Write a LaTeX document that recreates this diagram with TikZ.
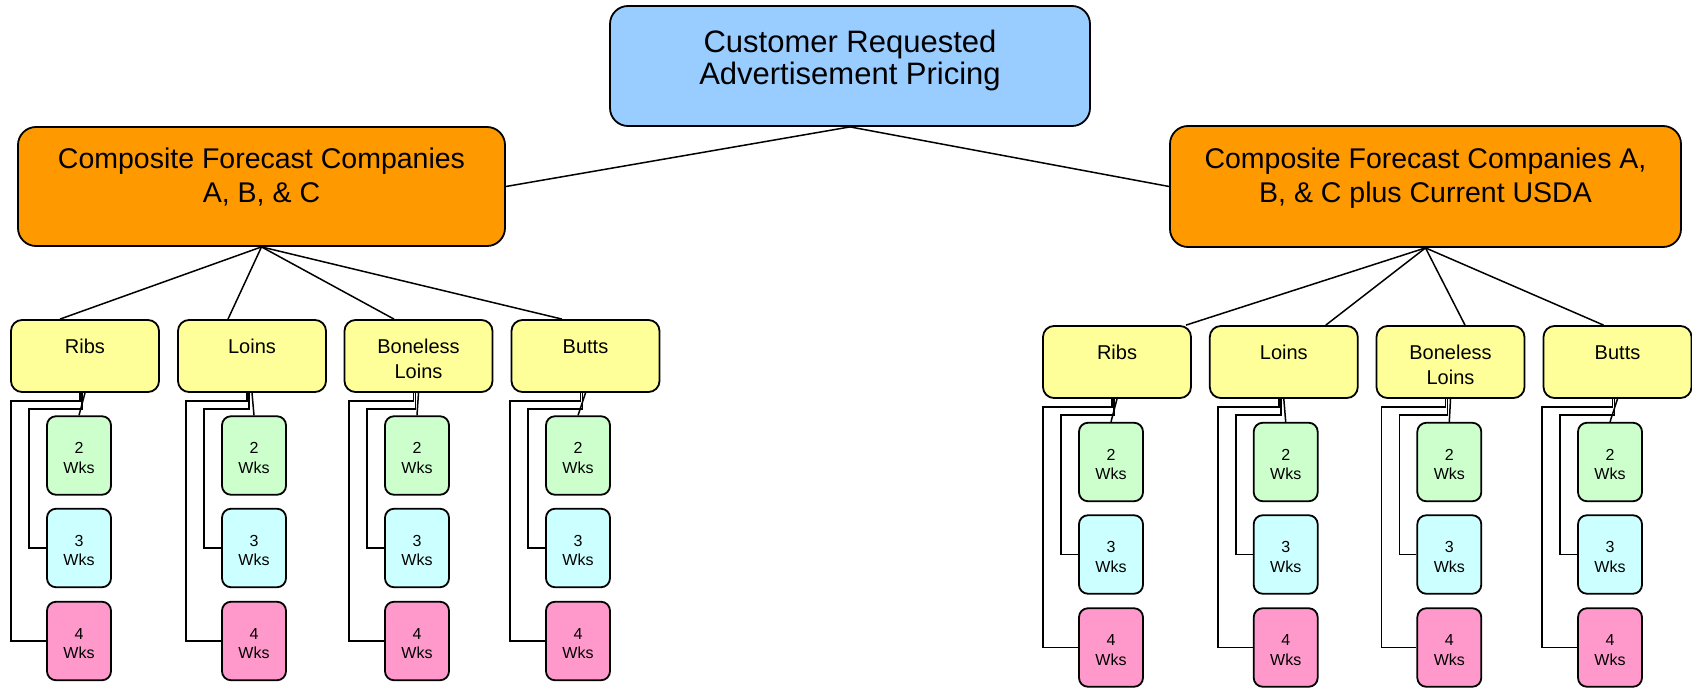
\documentclass[tikz,border=0pt]{standalone}
\usepackage{fontspec}
\setmainfont{Liberation Sans}
\usetikzlibrary{calc}

\definecolor{topblue}{RGB}{153,204,255}
\definecolor{comporange}{RGB}{255,153,0}
\definecolor{cutyellow}{RGB}{255,255,153}
\definecolor{wkgreen}{RGB}{204,255,204}
\definecolor{wkcyan}{RGB}{204,255,255}
\definecolor{wkpink}{RGB}{255,153,204}

% centred lines whose reference baseline is the first line
\newcommand{\stack}[1]{\begin{tabular}[t]{@{}c@{}}#1\end{tabular}}

\begin{document}
\begin{tikzpicture}[x=1pt, y=-1pt,
  anybox/.style={draw=black, line width=1.8pt, inner sep=0pt, text=black},
  topbox/.style={anybox, fill=topblue, rounded corners=18pt,
    minimum width=480pt, minimum height=120pt,
    font=\fontsize{31}{32.3}\selectfont, text height=10pt, text depth=38pt},
  compbox/.style={anybox, fill=comporange, rounded corners=18pt,
    font=\fontsize{28.5}{34}\selectfont, text height=10pt, text depth=45.6pt},
  cutbox/.style={anybox, fill=cutyellow, rounded corners=11pt,
    minimum width=148pt, minimum height=72pt,
    font=\fontsize{20}{25.6}\selectfont, text height=10pt, text depth=16pt},
  wkbox/.style={anybox, rounded corners=9pt,
    minimum width=64pt, minimum height=78.5pt,
    font=\fontsize{16}{19.5}\selectfont, text height=10pt, text depth=14pt},
  link/.style={draw=black, line width=1.5pt}
]
\useasboundingbox (0,0) rectangle (1692,688);

% root and the two forecast groups
\node[topbox] (top) at (850,66) {\stack{Customer Requested\\Advertisement Pricing}};
\node[compbox, minimum width=487pt, minimum height=119pt] (lo) at (261.5,186.5)
  {\stack{Composite Forecast Companies\\A, B, \& C}};
\node[compbox, minimum width=511pt, minimum height=121pt] (ro) at (1425.5,186.5)
  {\stack{Composite Forecast Companies A,\\B, \& C plus Current USDA}};

\draw[link] (top.south) -- (lo.east);
\draw[link] (top.south) -- (ro.west);

% cuts under each group, each with its 2/3/4 week boxes
% side/parent/index/cut x/cut y/week x/week y (2 Wks)/top offset/label
\foreach \s/\pa/\i/\x/\y/\gx/\gy/\dx/\lbl in {
    L/lo/1/85/356/79/455.5/-25/Ribs,
    L/lo/2/252/356/254/455.5/-24/Loins,
    L/lo/3/418.5/356/417/455.5/-24.5/{Boneless\\Loins},
    L/lo/4/585.5/356/578/455.5/-23.5/Butts,
    R/ro/1/1117/362/1111/462/69/Ribs,
    R/ro/2/1283.8/362/1285.7/462/42/Loins,
    R/ro/3/1450.5/362/1449.3/462/14.5/{Boneless\\Loins},
    R/ro/4/1617.5/362/1610/462/-14/Butts}
{
  \node[cutbox] (\s cut\i) at (\x,\y) {\stack{\lbl}};
  \node[wkbox, fill=wkgreen] (\s two\i) at (\gx,\gy) {\stack{2\\Wks}};
  \node[wkbox, fill=wkcyan] (\s three\i) at (\gx,\gy+92.5) {\stack{3\\Wks}};
  \node[wkbox, fill=wkpink] (\s four\i) at (\gx,\gy+185.5) {\stack{4\\Wks}};

  \draw[link] (\pa.south) -- ($(\s cut\i.north)+(\dx,0)$);
  \draw[link] ($(\s cut\i.south)+(-5,0)$) -- ++(0,8)
    -| ($(\s four\i.west)+(-35,0)$) -- (\s four\i.west);
  \draw[link] ($(\s cut\i.south)+(-3,0)$) -- ++(0,16)
    -| ($(\s three\i.west)+(-17,0)$) -- (\s three\i.west);
  \draw[link] (\s cut\i.south) -- (\s two\i.north);
}
\end{tikzpicture}
\end{document}
